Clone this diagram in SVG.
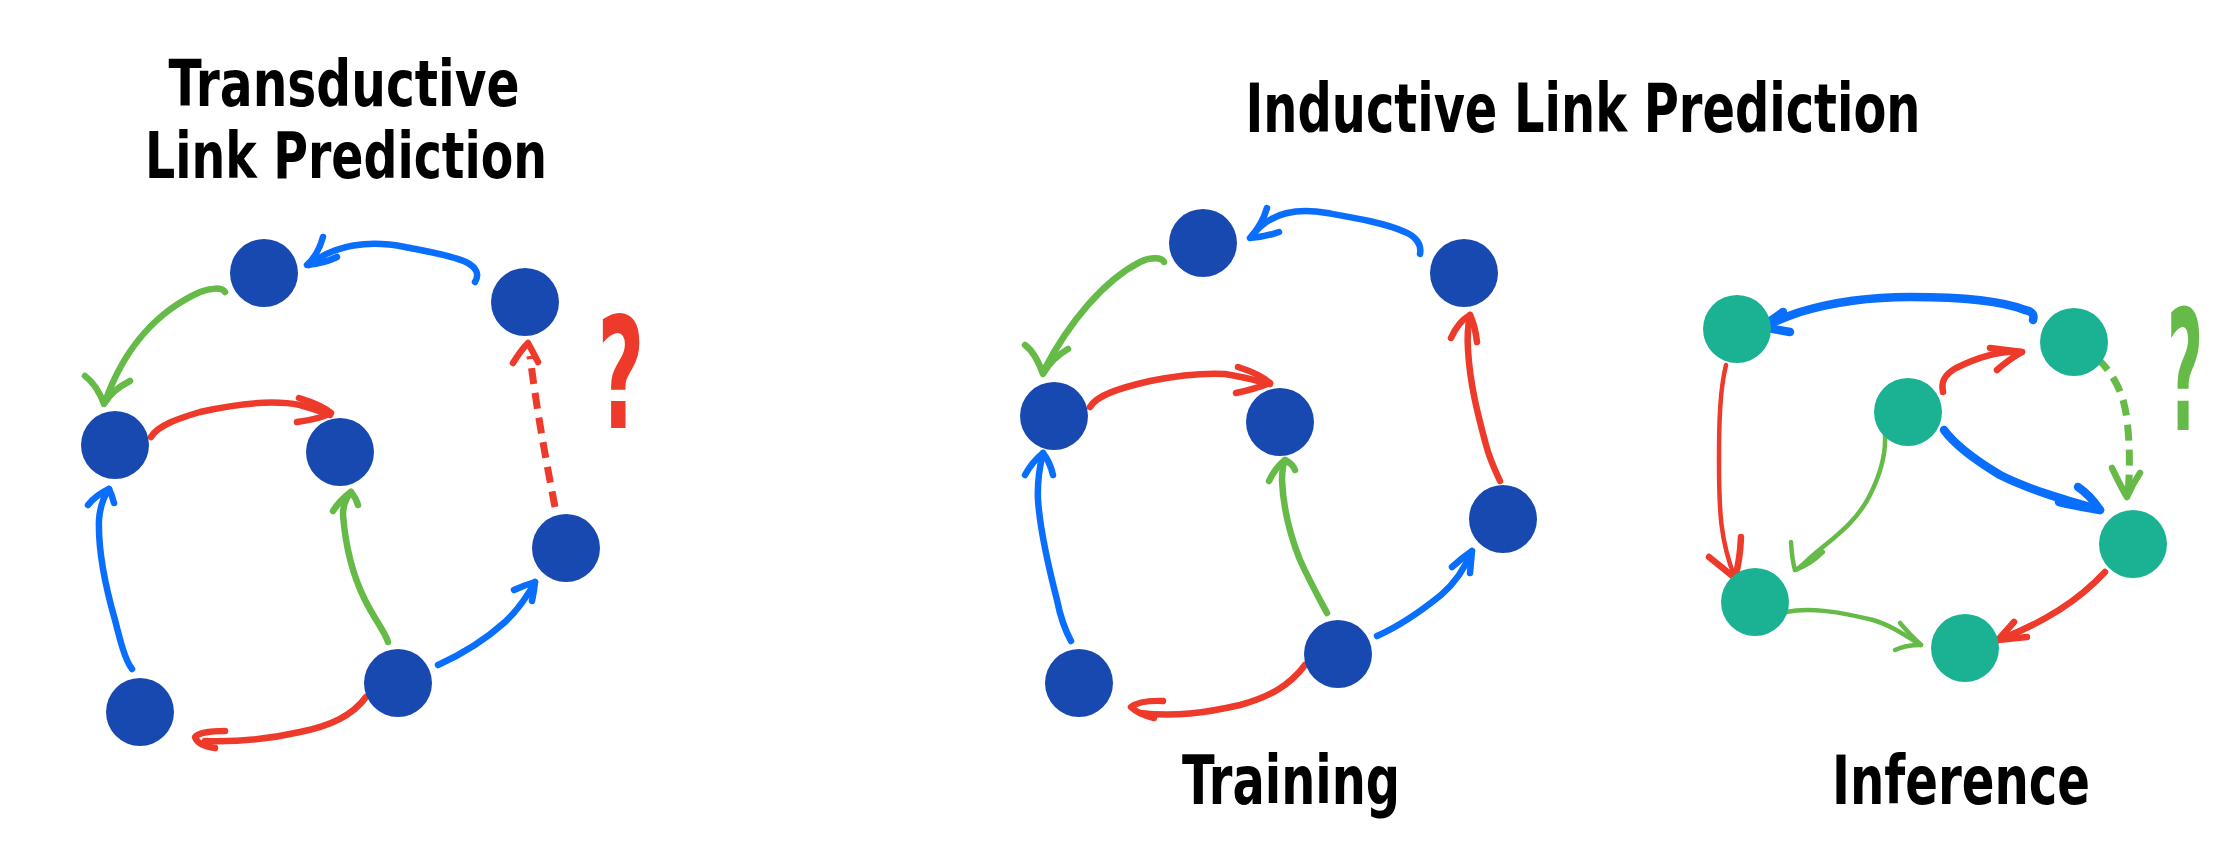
<svg xmlns="http://www.w3.org/2000/svg" width="2226" height="847" viewBox="0 0 2226 847">
<style>
.bg{fill:#ffffff}
.nb{fill:#1849B1}
.nt{fill:#1BB193}
.title{font-family:"DejaVu Sans Condensed","DejaVu Sans",sans-serif;font-weight:bold;fill:#000;text-anchor:middle}
.e{fill:none;stroke-linecap:round;stroke-linejoin:round;stroke-width:6.5}
.b{stroke:#0A6EFD}
.r{stroke:#EE3A2A}
.g{stroke:#66BB48}
.thin{stroke-width:4.5}
.thick{stroke-width:8.5}
.dash{stroke-dasharray:16 9;stroke-linecap:butt;stroke-width:7}
.q{font-family:"DejaVu Sans","Liberation Sans",sans-serif;text-anchor:middle;font-size:120px;font-weight:bold}
</style>
<rect class="bg" x="0" y="0" width="2226" height="847"/>
<g id="titles">
<text class="title" x="344" y="106" font-size="64" textLength="351" lengthAdjust="spacingAndGlyphs">Transductive</text>
<text class="title" x="346" y="178" font-size="64" textLength="402" lengthAdjust="spacingAndGlyphs">Link Prediction</text>
<text class="title" x="1583" y="132" font-size="67" textLength="675" lengthAdjust="spacingAndGlyphs">Inductive Link Prediction</text>
<text class="title" x="1291" y="804" font-size="67" textLength="218" lengthAdjust="spacingAndGlyphs">Training</text>
<text class="title" x="1961" y="804" font-size="67" textLength="258" lengthAdjust="spacingAndGlyphs">Inference</text>
</g>
<g id="connectors">
<!-- Transductive -->
<path class="e b" d="M475,282 C480,274 476,267 466,262 C450,255 425,251 405,247 C370,240 335,244 309,265"/>
<path class="e b" d="M323,237 Q318,255 307,265 Q325,263 337,257"/>
<path class="e g" d="M225,292 C222,287 210,288 200,292 C160,310 125,345 105,402"/>
<path class="e g" d="M85,376 Q97,385 104,404 Q112,390 130,381"/>
<path class="e r" d="M151,437 C158,425 180,418 200,412 C240,403 275,400 300,405 C315,409 322,412 330,415"/>
<path class="e r" d="M299,398 Q322,405 331,413 Q320,419 297,422"/>
<path class="e b" d="M132,669 C125,660 120,640 115,620 C105,585 98,550 99,520 C100,505 105,495 109,489"/>
<path class="e b" d="M88,505 Q96,495 109,489 Q112,495 114,503"/>
<path class="e g" d="M388,642 C385,632 375,620 365,600 C350,570 345,540 343,515 C343,505 346,498 351,492"/>
<path class="e g" d="M333,511 Q340,500 351,492 Q356,498 358,505"/>
<path class="e b" d="M438,665 C460,655 485,640 505,622 C520,608 528,595 535,582"/>
<path class="e b" d="M514,590 Q525,585 535,582 Q534,592 532,601"/>
<path class="e r" d="M366,697 C352,716 330,726 300,732 C265,740 235,742 205,741"/>
<path class="e r" d="M225,731 Q200,731 195,737 Q198,746 215,748"/>
<path class="e r dash" d="M555,507 C548,470 538,420 530,356"/>
<path class="e r" d="M513,363 Q521,350 528,343 Q533,352 538,362"/>
<!-- Training -->
<path class="e b" d="M1420,254 C1422,244 1415,236 1405,232 C1385,223 1355,218 1327,213 C1300,208 1270,211 1252,236"/>
<path class="e b" d="M1267,208 Q1262,225 1250,238 Q1265,237 1279,232"/>
<path class="e g" d="M1164,262 C1162,257 1150,257 1140,262 C1105,280 1070,320 1043,372"/>
<path class="e g" d="M1025,345 Q1035,352 1043,374 Q1052,358 1068,349"/>
<path class="e r" d="M1090,407 C1097,395 1120,388 1150,381 C1180,375 1205,373 1225,374 C1245,377 1258,381 1270,384"/>
<path class="e r" d="M1238,367 Q1260,374 1270,383 Q1255,389 1236,393"/>
<path class="e b" d="M1071,641 C1065,630 1060,615 1057,600 C1048,565 1040,530 1038,500 C1037,480 1040,465 1043,453"/>
<path class="e b" d="M1025,475 Q1032,462 1043,453 Q1050,462 1053,475"/>
<path class="e g" d="M1327,613 C1320,600 1310,582 1300,560 C1290,535 1283,505 1282,480 C1282,470 1283,465 1285,460"/>
<path class="e g" d="M1269,481 Q1275,468 1285,460 Q1293,464 1295,470"/>
<path class="e b" d="M1377,636 C1395,628 1420,612 1441,595 C1455,583 1465,568 1472,551"/>
<path class="e b" d="M1452,567 Q1462,558 1472,551 Q1471,562 1470,573"/>
<path class="e r" d="M1500,481 C1495,470 1490,460 1486,445 C1478,415 1470,385 1468,350 C1467,335 1468,325 1470,315"/>
<path class="e r" d="M1451,338 Q1458,322 1470,315 Q1475,325 1477,342"/>
<path class="e r" d="M1305,665 C1290,685 1270,697 1240,705 C1205,713 1175,717 1140,713"/>
<path class="e r" d="M1163,701 Q1140,700 1131,707 Q1138,714 1154,718"/>
<!-- Inference -->
<path class="e b thick" d="M2033,320 C2035,313 2030,311 2025,310 C2000,300 1960,297 1910,297 C1870,297 1830,303 1800,312 C1785,317 1775,322 1762,327"/>
<path class="e b thick" d="M1783,312 L1762,327 L1790,332"/>
<path class="e r" d="M1943,392 C1941,382 1944,375 1956,368 C1976,358 2000,350 2022,352"/>
<path class="e r" d="M1990,348 L2022,352 Q2008,360 1997,370"/>
<path class="e r thin" d="M1726,365 C1720,390 1719,420 1719,460 C1719,510 1720,540 1735,578"/>
<path class="e r" d="M1709,557 Q1725,570 1735,578 Q1740,560 1741,537"/>
<path class="e g thin" d="M1885,435 C1886,455 1880,475 1870,495 C1855,525 1830,540 1810,558 C1800,567 1797,570 1795,570"/>
<path class="e g thin" d="M1791,542 Q1792,560 1795,570 Q1810,565 1823,552"/>
<path class="e b thick" d="M1944,430 C1955,445 1975,460 2000,475 C2030,490 2065,500 2100,510"/>
<path class="e b thick" d="M2078,487 Q2090,495 2100,510 Q2080,507 2059,502"/>
<path class="e g dash" d="M2097,358 C2115,375 2124,395 2127,420 C2130,445 2130,470 2128,494"/>
<path class="e g" d="M2112,468 Q2120,485 2127,497 Q2132,485 2140,473"/>
<path class="e r" d="M2105,572 C2090,588 2075,600 2059,610 C2040,622 2020,632 1998,640"/>
<path class="e r" d="M2014,622 L1998,640 L2027,637"/>
<path class="e g thin" d="M1786,612 C1810,607 1840,612 1873,620 C1890,625 1905,635 1921,645"/>
<path class="e g thin" d="M1900,623 Q1910,635 1921,645 Q1905,645 1895,650"/>
</g>
<g id="marks">
<text class="q" transform="translate(621,428) scale(0.68,1.3)" x="0" y="0" fill="#EE3A2A">?</text>
<text class="q" transform="translate(2185,430) scale(0.52,1.4)" x="0" y="0" fill="#66BB48">?</text>
</g>
<g id="tA"><circle class="nb" cx="264" cy="273" r="34"/></g>
<g id="tB"><circle class="nb" cx="525" cy="302" r="34"/></g>
<g id="tC"><circle class="nb" cx="115" cy="445" r="34"/></g>
<g id="tD"><circle class="nb" cx="340" cy="452" r="34"/></g>
<g id="tE"><circle class="nb" cx="566" cy="548" r="34"/></g>
<g id="tF"><circle class="nb" cx="398" cy="683" r="34"/></g>
<g id="tG"><circle class="nb" cx="140" cy="712" r="34"/></g>
<g id="r1"><circle class="nb" cx="1203" cy="243" r="34"/></g>
<g id="r2"><circle class="nb" cx="1464" cy="273" r="34"/></g>
<g id="r3"><circle class="nb" cx="1054" cy="416" r="34"/></g>
<g id="r4"><circle class="nb" cx="1280" cy="422" r="34"/></g>
<g id="r5"><circle class="nb" cx="1503" cy="519" r="34"/></g>
<g id="r6"><circle class="nb" cx="1338" cy="654" r="34"/></g>
<g id="r7"><circle class="nb" cx="1079" cy="683" r="34"/></g>
<g id="i1"><circle class="nt" cx="1737" cy="329" r="34"/></g>
<g id="i2"><circle class="nt" cx="2074" cy="342" r="34"/></g>
<g id="i3"><circle class="nt" cx="1908" cy="412" r="34"/></g>
<g id="i4"><circle class="nt" cx="2133" cy="544" r="34"/></g>
<g id="i5"><circle class="nt" cx="1755" cy="602" r="34"/></g>
<g id="i6"><circle class="nt" cx="1965" cy="648" r="34"/></g>
</svg>
